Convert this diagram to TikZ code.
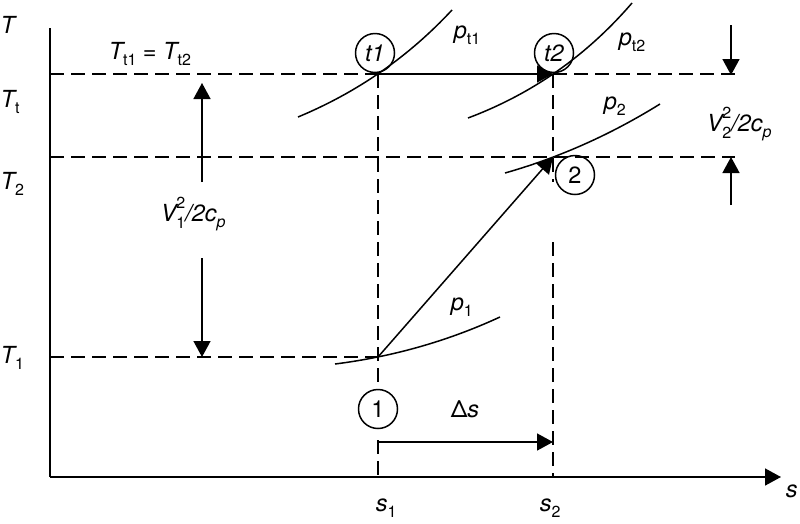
\documentclass[tikz,border=0pt]{standalone}
\usepackage{fontspec}
\setmainfont{TeX Gyre Heros}
\usetikzlibrary{arrows.meta,calc}
\newcommand{\lsb}[1]{\raisebox{-0.28em}{\fontsize{16}{16}\selectfont\upshape #1}}
\newcommand{\lsbi}[1]{\raisebox{-0.28em}{\fontsize{16}{16}\selectfont\itshape #1}}
\newcommand{\lsupsub}[2]{\makebox[0pt][l]{\raisebox{0.55em}{\fontsize{16}{16}\selectfont\upshape #1}}\raisebox{-0.3em}{\fontsize{16}{16}\selectfont\upshape #2}}
\begin{document}
\begin{tikzpicture}[x=1pt,y=-1pt,line width=1.5pt,
  dsh/.style={dash pattern=on 14pt off 7pt},
  arr/.style={-{Triangle[length=16pt,width=17pt]}},
  lbl/.style={anchor=base west,inner sep=0pt,font=\fontsize{23.5}{26}\selectfont\itshape},
  stc/.style={circle,draw,fill=white,minimum size=39pt,inner sep=0pt,font=\fontsize{23.5}{26}\selectfont}]
\useasboundingbox (0,0) rectangle (800,523);
% coordinates
\coordinate (ytop) at (50,28);
\coordinate (O) at (50,477);
\coordinate (xend) at (781,477);
\coordinate (T1) at (378,74);
\coordinate (T2) at (553,74);
\coordinate (P2) at (553,157);
\coordinate (P1) at (378,357);
\coordinate (ltt) at (50,74);
\coordinate (rtt) at (735,74);
\coordinate (l2) at (50,157);
\coordinate (r2) at (735,157);
\coordinate (l1) at (50,357);
\coordinate (s1top) at (378,390);
\coordinate (s1a) at (378,440);
\coordinate (s1b) at (378,477);
\coordinate (s2mid) at (553,182);
\coordinate (s2a) at (553,242);
\coordinate (s2b) at (553,477);
\coordinate (ds1) at (378,442);
\coordinate (ds2) at (553,442);
\coordinate (v1up0) at (202,182);
\coordinate (v1up1) at (202,83);
\coordinate (v1dn0) at (202,258);
\coordinate (v1dn1) at (202,357);
\coordinate (v2dn0) at (731,25);
\coordinate (v2dn1) at (731,75);
\coordinate (v2up0) at (731,205);
\coordinate (v2up1) at (731,157);
% isobar end and control points
\coordinate (at1) at (298,117); \coordinate (ct1c) at (387,80); \coordinate (bt1) at (452,10);
\coordinate (at2) at (468,118); \coordinate (ct2c) at (564,82); \coordinate (bt2) at (632,3);
\coordinate (a2) at (505,173); \coordinate (c2c) at (586,150); \coordinate (b2) at (660,104);
\coordinate (a1) at (335,364); \coordinate (c1c) at (422,353); \coordinate (b1) at (500,317);
% state circles
\node[stc] (ct1) at (375,53) {\itshape t1};
\node[stc] (ct2) at (554,53) {\itshape t2};
\node[stc] (c2) at (575,175) {2};
\node[stc] (c1) at (378,409) {1};
% axes
\draw (ytop) -- (O);
\draw[arr] (O) -- (xend);
% dashed lines
\draw[dsh] (ltt) -- (T1);
\draw[dsh] (T2) -- (rtt);
\draw[dsh] (l2) -- (r2);
\draw[dsh] (l1) -- (P1);
\draw[dsh] (T1) -- (s1top);
\draw[dsh] (s1a) -- (s1b);
\draw[dsh] (T2) -- (s2mid);
\draw[dsh] (s2a) -- (s2b);
% isobars (quadratic curves)
\draw (at1) .. controls ($(at1)!2/3!(ct1c)$) and ($(bt1)!2/3!(ct1c)$) .. (bt1);
\draw (at2) .. controls ($(at2)!2/3!(ct2c)$) and ($(bt2)!2/3!(ct2c)$) .. (bt2);
\draw (a2) .. controls ($(a2)!2/3!(c2c)$) and ($(b2)!2/3!(c2c)$) .. (b2);
\draw (a1) .. controls ($(a1)!2/3!(c1c)$) and ($(b1)!2/3!(c1c)$) .. (b1);
% process arrows
\draw[arr] (T1) -- (T2);
\draw[arr] (P1) -- (P2);
\draw[arr] (ds1) -- (ds2);
\draw[arr] (v1up0) -- (v1up1);
\draw[arr] (v1dn0) -- (v1dn1);
\draw[arr] (v2dn0) -- (v2dn1);
\draw[arr] (v2up0) -- (v2up1);
% labels
\node[lbl] (lT) at (0,33) {T};
\node[lbl] (lTt) at (0,107) {T\lsb{t}};
\node[lbl] (lT2) at (0,189) {T\lsb{2}};
\node[lbl] (lT1) at (0,363) {T\lsb{1}};
\node[lbl] (lTeq) at (108,59) {T\lsb{t1} = T\lsb{t2}};
\node[lbl] (lV1) at (160,221) {V\lsupsub{2}{1}/2c\lsbi{p}};
\node[lbl] (lV2) at (706,131) {V\lsupsub{2}{2}/2c\lsbi{p}};
\node[lbl] (lpt1) at (453,38) {p\lsb{t1}};
\node[lbl] (lpt2) at (618,45) {p\lsb{t2}};
\node[lbl] (lp2) at (603,109) {p\lsb{2}};
\node[lbl] (lp1) at (450,310) {p\lsb{1}};
\node[lbl] (lds) at (450,417) {\upshape\char"0394\itshape s};
\node[lbl] (ls1) at (375,511) {s\lsb{1}};
\node[lbl] (ls2) at (539,511) {s\lsb{2}};
\node[lbl] (ls) at (785,497) {s};
\end{tikzpicture}
\end{document}
